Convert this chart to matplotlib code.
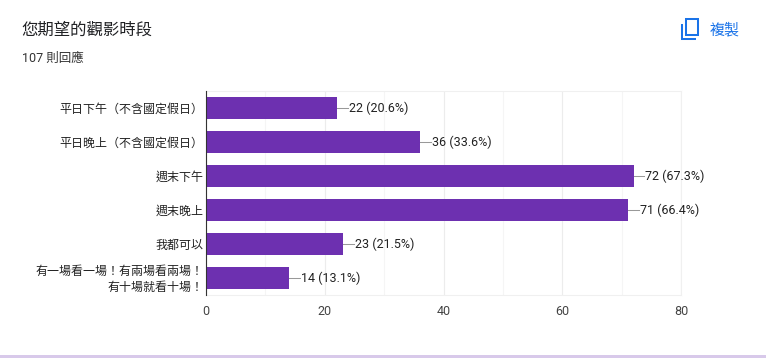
import matplotlib
matplotlib.use('Agg')
import matplotlib.pyplot as plt
from matplotlib.patches import Rectangle
from matplotlib.transforms import ScaledTranslation

plt.rcParams['font.family'] = ['Roboto', 'Noto Sans CJK TC', 'DejaVu Sans']

categories = ['平日下午（不含國定假日）', '平日晚上（不含國定假日）', '週末下午', '週末晚上', '我都可以',
              '有一場看一場！有兩場看兩場！\n有十場就看十場！']
counts = [22, 36, 72, 71, 23, 14]
percents = ['20.6', '33.6', '67.3', '66.4', '21.5', '13.1']
major_ticks = [0, 20, 40, 60, 80]
minor_ticks = [10, 30, 50, 70]

W, H = 766, 358
fig = plt.figure(figsize=(W / 100, H / 100), dpi=100, facecolor='white')

# chart area in pixels
left, right, top, bottom = 206, 681, 91, 295
ax = fig.add_axes([left / W, 1 - bottom / H, (right - left) / W, (bottom - top) / H])
ax.set_xlim(0, 80)
ax.set_ylim(len(categories) - 0.5, -0.5)
ax.set_axisbelow(True)

ax.set_xticks(major_ticks)
ax.set_xticks(minor_ticks, minor=True)
ax.grid(axis='x', which='major', color='#ececec', lw=0.8)
ax.grid(axis='x', which='minor', color='#f5f5f5', lw=0.8)
ax.tick_params(axis='x', which='both', length=0, pad=7, labelsize=9, labelcolor='#444444')
ax.tick_params(axis='y', length=0, pad=1.6, labelsize=8.64, labelcolor='#222222')

for side in ['top', 'right', 'bottom']:
    ax.spines[side].set_color('#f0f0f0')
    ax.spines[side].set_linewidth(0.8)
ax.spines['left'].set_color('#333333')
ax.spines['left'].set_linewidth(0.8)
ax.spines['left'].set_zorder(5)

ypos = list(range(len(categories)))
ax.barh(ypos, counts, height=0.62, color='#6d30b0', zorder=3)
ax.set_yticks(ypos)
ax.set_yticklabels(categories, linespacing=1.3)

# two line label sits a bit higher in the original
last_label = ax.get_yticklabels()[-1]
last_label.set_transform(last_label.get_transform() + ScaledTranslation(0, 2 / 100, fig.dpi_scale_trans))

# leader lines and value labels
for y, c, p in zip(ypos, counts, percents):
    ax.plot([c, c + 1.85], [y, y], color='#999999', lw=0.75, zorder=2)
    ax.annotate(f'{c} ({p}%)', (c, y), xytext=(8.6, 0), textcoords='offset points',
                ha='left', va='center', fontsize=9, color='#222222')

# card chrome, in pixel coordinates
bg = fig.add_axes([0, 0, 1, 1], zorder=-1)
bg.set_xlim(0, W)
bg.set_ylim(H, 0)
bg.axis('off')
bg.add_patch(Rectangle((0, 355), W, 3, color='#d8c9ea', lw=0))

bg.text(21.5, 30.5, '您期望的觀影時段', fontsize=11.8, color='#202124', va='center', ha='left')
bg.text(22, 58.5, '107 則回應', fontsize=9, color='#333333', va='center', ha='left')
bg.text(710, 29.5, '複製', fontsize=10.8, color='#1a73e8', va='center', ha='left')

# copy icon
blue = '#1a73e8'
bg.add_patch(Rectangle((685.5, 19), 12.5, 15.5, fill=False, ec=blue, lw=1.45))
bg.plot([681.8, 681.8, 696], [24, 39, 39], color=blue, lw=1.45, solid_capstyle='butt', solid_joinstyle='miter')

fig.savefig('out.png', dpi=100)
